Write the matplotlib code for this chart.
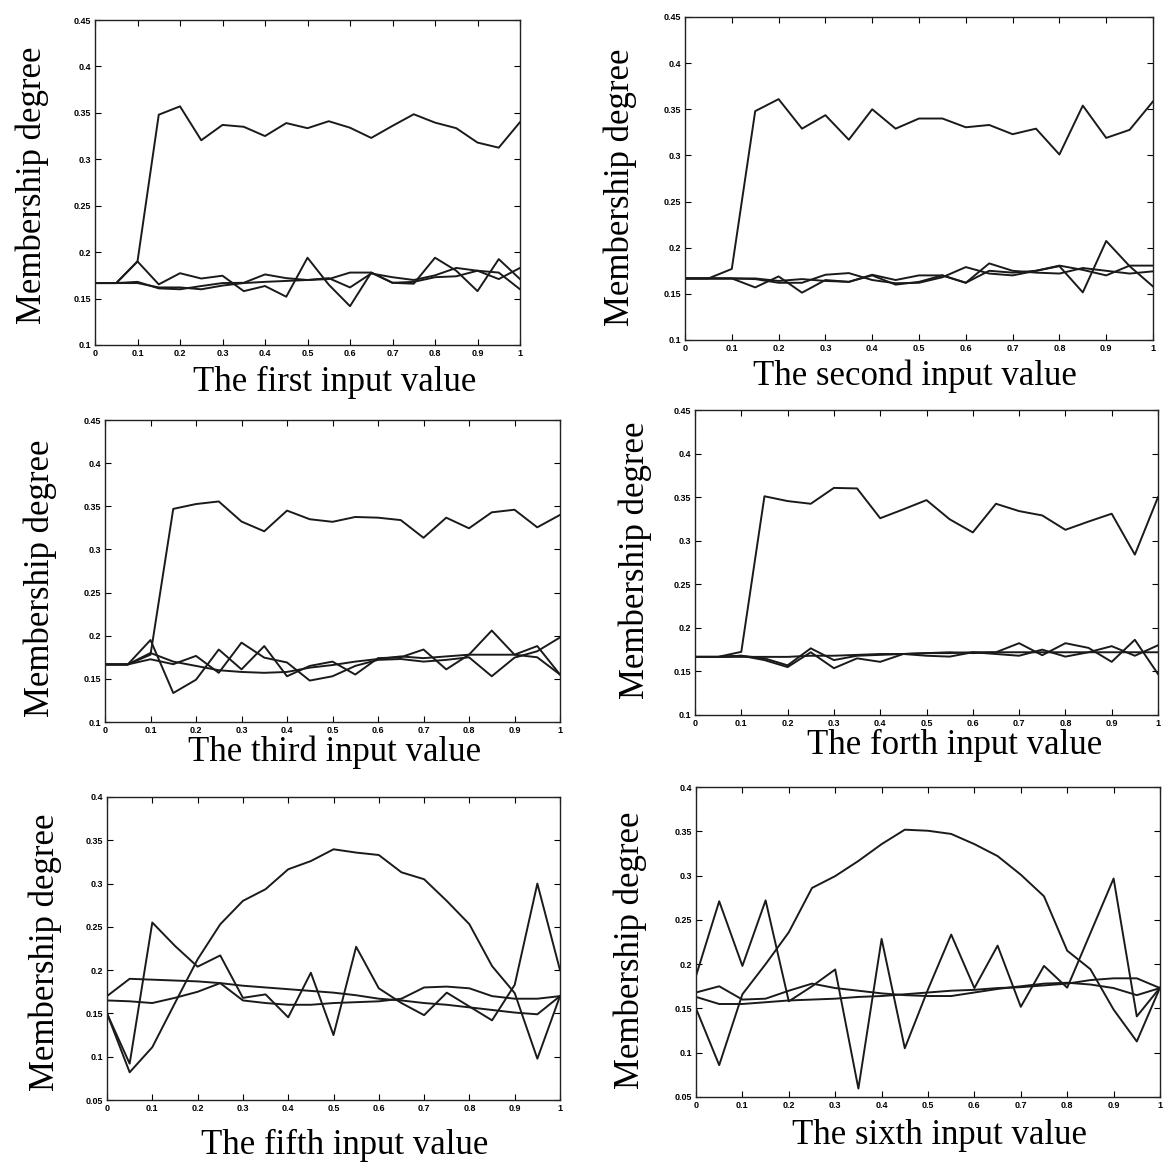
import numpy as np
import matplotlib
matplotlib.use("Agg")
import matplotlib.pyplot as plt

W, H = 1164, 1169

x = [round(0.05 * i, 2) for i in range(21)]
x_ticks = [0, 0.1, 0.2, 0.3, 0.4, 0.5, 0.6, 0.7, 0.8, 0.9, 1]
x_ticklabels = ["0", "0.1", "0.2", "0.3", "0.4", "0.5", "0.6", "0.7", "0.8", "0.9", "1"]
y_ticks_top = [0.1, 0.15, 0.2, 0.25, 0.3, 0.35, 0.4, 0.45]
y_ticks_bottom = [0.05, 0.1, 0.15, 0.2, 0.25, 0.3, 0.35, 0.4]

xlabels = ["The first input value", "The second input value", "The third input value",
           "The forth input value", "The fifth input value", "The sixth input value"]
ylabel = "Membership degree"

# Panel 1
p1_main = [0.1667, 0.1667, 0.19, 0.348, 0.357, 0.3205, 0.337, 0.335, 0.325, 0.339, 0.3335,
           0.341, 0.334, 0.323, 0.336, 0.3485, 0.3395, 0.3335, 0.318, 0.3125, 0.34]
p1_a = [0.1667, 0.1667, 0.19, 0.1653, 0.1773, 0.1716, 0.1746, 0.158, 0.1635, 0.152, 0.194,
        0.165, 0.1418, 0.178, 0.167, 0.166, 0.194, 0.18, 0.158, 0.1925, 0.171]
p1_b = [0.1667, 0.1667, 0.168, 0.161, 0.16, 0.1635, 0.1667, 0.167, 0.176, 0.172, 0.17,
        0.172, 0.162, 0.177, 0.173, 0.17, 0.175, 0.183, 0.18, 0.171, 0.183]
p1_c = [0.1667, 0.1667, 0.1667, 0.162, 0.162, 0.160, 0.164, 0.1667, 0.168, 0.169, 0.17,
        0.171, 0.178, 0.178, 0.167, 0.168, 0.173, 0.174, 0.18, 0.178, 0.16]

# Panel 2
p2_main = [0.1667, 0.1667, 0.177, 0.348, 0.361, 0.329, 0.3436, 0.317, 0.35, 0.329, 0.34,
           0.34, 0.3305, 0.333, 0.323, 0.329, 0.301, 0.354, 0.319, 0.3277, 0.3585]
p2_a = [0.1667, 0.1667, 0.1667, 0.157, 0.1689, 0.1513, 0.165, 0.163, 0.17, 0.16, 0.163,
        0.17, 0.162, 0.175, 0.173, 0.175, 0.18, 0.1516, 0.2073, 0.18, 0.158]
p2_b = [0.1667, 0.1667, 0.1667, 0.166, 0.162, 0.162, 0.1707, 0.1725, 0.165, 0.1615, 0.162,
        0.168, 0.179, 0.172, 0.17, 0.175, 0.1806, 0.176, 0.17, 0.1806, 0.1806]
p2_c = [0.1667, 0.1667, 0.1667, 0.1667, 0.164, 0.166, 0.164, 0.163, 0.1707, 0.165, 0.17,
        0.17, 0.162, 0.183, 0.175, 0.173, 0.172, 0.178, 0.175, 0.172, 0.1744]

# Panel 3
p3_main = [0.1667, 0.1667, 0.178, 0.347, 0.3526, 0.3556, 0.3323, 0.321, 0.345, 0.335, 0.332,
           0.3376, 0.3368, 0.334, 0.3135, 0.3368, 0.3245, 0.343, 0.346, 0.3256, 0.34]
p3_a = [0.1667, 0.1667, 0.195, 0.1336, 0.149, 0.184, 0.161, 0.188, 0.153, 0.165, 0.17,
        0.155, 0.174, 0.175, 0.184, 0.161, 0.178, 0.206, 0.178, 0.188, 0.155]
p3_b = [0.1667, 0.1667, 0.1727, 0.167, 0.1766, 0.157, 0.192, 0.1746, 0.169, 0.148, 0.153,
        0.165, 0.172, 0.173, 0.17, 0.172, 0.175, 0.153, 0.1746, 0.182, 0.198]
p3_c = [0.1667, 0.1667, 0.18, 0.17, 0.165, 0.16, 0.158, 0.157, 0.158, 0.163, 0.166,
        0.17, 0.173, 0.176, 0.174, 0.176, 0.178, 0.178, 0.178, 0.175, 0.155]

# Panel 4
p4_main = [0.1667, 0.1667, 0.1725, 0.351, 0.3455, 0.3424, 0.3606, 0.36, 0.3258, 0.336, 0.3466,
           0.3246, 0.3095, 0.3424, 0.334, 0.329, 0.3125, 0.322, 0.331, 0.284, 0.35]
p4_a = [0.1667, 0.1667, 0.168, 0.165, 0.157, 0.1765, 0.163, 0.168, 0.169, 0.17, 0.171,
        0.172, 0.171, 0.172, 0.1824, 0.1686, 0.1824, 0.177, 0.161, 0.1863, 0.147]
p4_b = [0.1667, 0.1667, 0.168, 0.163, 0.155, 0.172, 0.1537, 0.165, 0.161, 0.17, 0.168,
        0.167, 0.172, 0.17, 0.168, 0.175, 0.167, 0.172, 0.179, 0.168, 0.18]
p4_c = [0.1667, 0.1667, 0.1667, 0.1667, 0.1667, 0.168, 0.168, 0.169, 0.17, 0.17, 0.171,
        0.171, 0.172, 0.172, 0.172, 0.172, 0.172, 0.172, 0.172, 0.172, 0.172]

# Panel 5
p5_main = [0.15, 0.082, 0.111, 0.162, 0.2125, 0.253, 0.28, 0.2935, 0.3165, 0.326, 0.3396,
           0.3358, 0.333, 0.313, 0.305, 0.28, 0.253, 0.2047, 0.1735, 0.0977, 0.17]
p5_a = [0.15, 0.092, 0.255, 0.228, 0.204, 0.217, 0.168, 0.172, 0.1455, 0.197, 0.125,
        0.227, 0.179, 0.162, 0.148, 0.174, 0.158, 0.142, 0.183, 0.30, 0.20]
p5_b = [0.17, 0.19, 0.189, 0.188, 0.187, 0.185, 0.182, 0.18, 0.178, 0.176, 0.174,
        0.171, 0.167, 0.165, 0.162, 0.16, 0.157, 0.154, 0.151, 0.149, 0.17]
p5_c = [0.165, 0.164, 0.162, 0.168, 0.175, 0.185, 0.165, 0.162, 0.16, 0.16, 0.162,
        0.163, 0.164, 0.167, 0.18, 0.181, 0.179, 0.17, 0.167, 0.167, 0.17]

# Panel 6
p6_main = [0.15, 0.086, 0.166, 0.2, 0.236, 0.286, 0.2994, 0.3165, 0.3355, 0.3518, 0.3506,
           0.347, 0.3355, 0.322, 0.301, 0.2766, 0.2152, 0.1943, 0.1487, 0.1127, 0.1734]
p6_a = [0.1867, 0.271, 0.198, 0.272, 0.158, 0.175, 0.194, 0.0595, 0.2285, 0.105, 0.1715,
        0.2334, 0.173, 0.2209, 0.1518, 0.198, 0.1734, 0.235, 0.2967, 0.141, 0.1734]
p6_b = [0.168, 0.175, 0.16, 0.161, 0.17, 0.178, 0.173, 0.17, 0.167, 0.165, 0.164,
        0.164, 0.168, 0.172, 0.175, 0.178, 0.179, 0.177, 0.173, 0.165, 0.173]
p6_c = [0.163, 0.155, 0.155, 0.157, 0.159, 0.16, 0.161, 0.163, 0.164, 0.166, 0.168,
        0.17, 0.171, 0.173, 0.174, 0.176, 0.178, 0.182, 0.184, 0.184, 0.173]

panels = [
    dict(series=[p1_main, p1_a, p1_b, p1_c], box=(95, 520, 20, 345), ylim=(0.1, 0.45), yt=y_ticks_top,
         xl=(335, 382), yl=(32, 185)),
    dict(series=[p2_main, p2_a, p2_b, p2_c], box=(685, 1153, 17, 340), ylim=(0.1, 0.45), yt=y_ticks_top,
         xl=(915, 376), yl=(620, 187)),
    dict(series=[p3_main, p3_a, p3_b, p3_c], box=(105, 560, 420, 722), ylim=(0.1, 0.45), yt=y_ticks_top,
         xl=(335, 752), yl=(40, 578)),
    dict(series=[p4_main, p4_a, p4_b, p4_c], box=(695, 1158, 410, 715), ylim=(0.1, 0.45), yt=y_ticks_top,
         xl=(955, 745), yl=(635, 560)),
    dict(series=[p5_main, p5_a, p5_b, p5_c], box=(107, 560, 797, 1100), ylim=(0.05, 0.4), yt=y_ticks_bottom,
         xl=(345, 1145), yl=(45, 952)),
    dict(series=[p6_main, p6_a, p6_b, p6_c], box=(696, 1160, 787, 1097), ylim=(0.05, 0.4), yt=y_ticks_bottom,
         xl=(940, 1135), yl=(630, 950)),
]

fig = plt.figure(figsize=(W / 100, H / 100), dpi=100)
fig.patch.set_facecolor("white")

serif = ["Liberation Serif", "DejaVu Serif"]
tickfont = dict(family="Liberation Sans", weight="bold", size=6.5)

for i, p in enumerate(panels):
    l, r, t, b = p["box"]
    ax = fig.add_axes([l / W, 1 - b / H, (r - l) / W, (b - t) / H])
    for s in p["series"]:
        ax.plot(x, s, color="#1a1a1a", lw=1.4)
    ax.set_xlim(0, 1)
    ax.set_ylim(*p["ylim"])
    ax.set_xticks(x_ticks)
    ax.set_xticklabels(x_ticklabels, fontdict=tickfont)
    ax.set_yticks(p["yt"])
    ax.set_yticklabels([f"{v:g}" for v in p["yt"]], fontdict=tickfont)
    ax.tick_params(direction="in", length=4, width=0.8, top=True, right=True, pad=3)
    for sp in ax.spines.values():
        sp.set_linewidth(1.0)
        sp.set_color("#222222")
    fig.text(p["xl"][0] / W, 1 - p["xl"][1] / H, xlabels[i], family=serif, fontsize=25,
             ha="center", va="center")
    fig.text(p["yl"][0] / W, 1 - p["yl"][1] / H, ylabel, family=serif, fontsize=25,
             rotation=90, ha="center", va="center")

fig.savefig("out.png", dpi=100, facecolor="white")
